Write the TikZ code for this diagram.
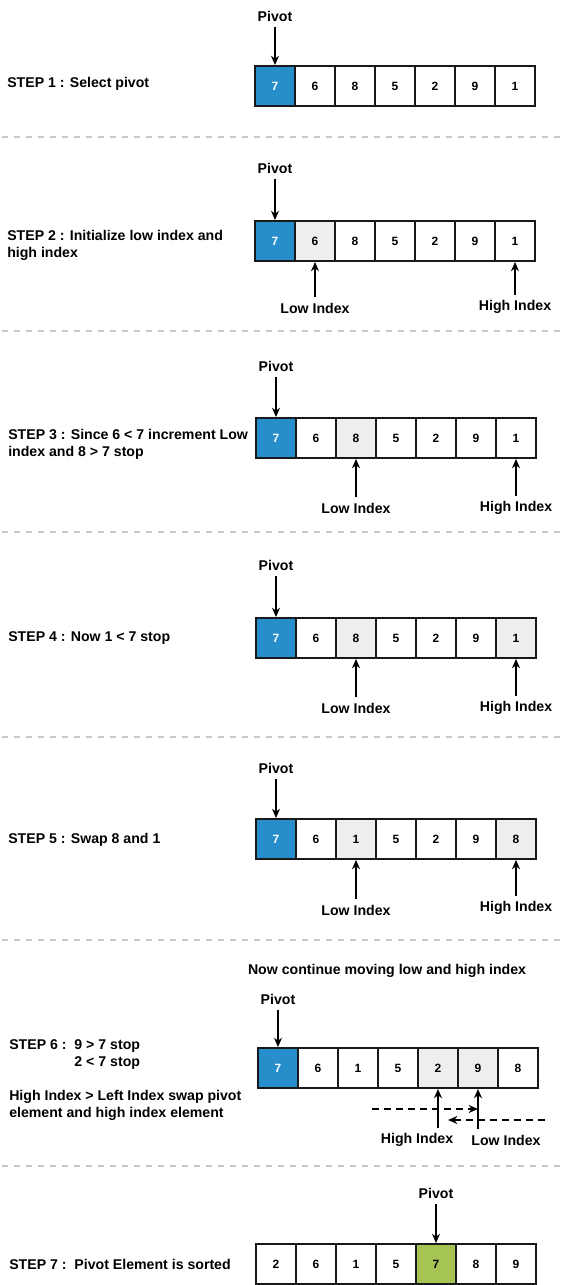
\documentclass[tikz,border=0pt]{standalone}
\usepackage{fontspec}
\setmainfont{Liberation Sans}
\usetikzlibrary{arrows.meta,positioning}
\definecolor{pivblue}{RGB}{40,142,203}
\definecolor{lightgr}{RGB}{238,238,238}
\definecolor{sortgreen}{RGB}{165,196,84}
\definecolor{sepgray}{RGB}{200,200,200}
\tikzset{
  cell/.style    = {draw=black!90, line width=1.4pt, fill=white, minimum width=30pt,
                    minimum height=30pt, inner sep=0pt,
                    font=\fontsize{9}{11}\selectfont\bfseries},
  piv/.style     = {cell, fill=pivblue, text=white},
  idx/.style     = {cell, fill=lightgr},
  sorted/.style  = {cell, fill=sortgreen},
  lbl/.style     = {font=\fontsize{10.6}{12.7}\selectfont\bfseries, inner sep=4pt},
  stepl/.style   = {lbl, anchor=west, align=left, inner sep=0pt},
  e/.style       = {-{Stealth[length=7pt,width=6pt]}, line width=1.1pt},
  mv/.style      = {e, dash pattern=on 5pt off 4pt},
  sepline/.style = {sepgray, line width=1.5pt, dash pattern=on 4.5pt off 4.5pt}
}
\begin{document}
\begin{tikzpicture}[x=0.75pt,y=-0.75pt]
  \useasboundingbox (0,0) rectangle (579,1285);
  % step 1
  \node[stepl] (step1) at (7,84) {STEP 1 : Select pivot};
  \foreach \v/\s [count=\i] in {7/piv,6/cell,8/cell,5/cell,2/cell,9/cell,1/cell}
    \node[\s] (s1c\i) at ({235+40*\i},86) {\v};
  \node[lbl] (piv1) at (275,16) {Pivot};
  \draw[e] (piv1) -- (s1c1);
  \draw[sepline] (2,137) -- (566,137);
  % step 2
  \node[stepl] (step2) at (7,245.5) {STEP 2 : Initialize low index and\\high index};
  \foreach \v/\s [count=\i] in {7/piv,6/idx,8/cell,5/cell,2/cell,9/cell,1/cell}
    \node[\s] (s2c\i) at ({235+40*\i},241) {\v};
  \node[lbl] (piv2) at (275,168) {Pivot};
  \node[lbl] (low2) at (315,308) {Low Index};
  \node[lbl] (high2) at (515,307) {High Index};
  \draw[e] (piv2) -- (s2c1);
  \draw[e] (low2) -- (s2c2);
  \draw[e] (high2) -- (s2c7);
  \draw[sepline] (2,331) -- (566,331);
  % step 3
  \node[stepl] (step3) at (8,444.5) {STEP 3 : Since 6 < 7 increment Low\\index and 8 > 7 stop};
  \foreach \v/\s [count=\i] in {7/piv,6/cell,8/idx,5/cell,2/cell,9/cell,1/cell}
    \node[\s] (s3c\i) at ({236+40*\i},438) {\v};
  \node[lbl] (piv3) at (276,366) {Pivot};
  \node[lbl] (low3) at (356,508) {Low Index};
  \node[lbl] (high3) at (516,508) {High Index};
  \draw[e] (piv3) -- (s3c1);
  \draw[e] (low3) -- (s3c3);
  \draw[e] (high3) -- (s3c7);
  \draw[sepline] (2,532) -- (566,532);
  % step 4
  \node[stepl] (step4) at (8,638) {STEP 4 : Now 1 < 7 stop};
  \foreach \v/\s [count=\i] in {7/piv,6/cell,8/idx,5/cell,2/cell,9/cell,1/idx}
    \node[\s] (s4c\i) at ({236+40*\i},638) {\v};
  \node[lbl] (piv4) at (276,565) {Pivot};
  \node[lbl] (low4) at (356,708) {Low Index};
  \node[lbl] (high4) at (516,708) {High Index};
  \draw[e] (piv4) -- (s4c1);
  \draw[e] (low4) -- (s4c3);
  \draw[e] (high4) -- (s4c7);
  \draw[sepline] (2,737) -- (566,737);
  % step 5
  \node[stepl] (step5) at (8,840) {STEP 5 : Swap 8 and 1};
  \foreach \v/\s [count=\i] in {7/piv,6/cell,1/idx,5/cell,2/cell,9/cell,8/idx}
    \node[\s] (s5c\i) at ({236+40*\i},839) {\v};
  \node[lbl] (piv5) at (276,768) {Pivot};
  \node[lbl] (low5) at (356,910) {Low Index};
  \node[lbl] (high5) at (516,908) {High Index};
  \draw[e] (piv5) -- (s5c1);
  \draw[e] (low5) -- (s5c3);
  \draw[e] (high5) -- (s5c7);
  \draw[sepline] (2,940) -- (566,940);
  % step 6
  \node[lbl] (note6) at (387,971) {Now continue moving low and high index};
  \node[stepl] (step6) at (9,1054.5) {STEP 6 :~~9 > 7 stop\\\phantom{STEP 6 :~~}2 < 7 stop};
  \node[stepl] (swap6) at (9,1105) {High Index > Left Index swap pivot\\element and high index element};
  \foreach \v/\s [count=\i] in {7/piv,6/cell,1/cell,5/cell,2/idx,9/idx,8/cell}
    \node[\s] (s6c\i) at ({238+40*\i},1068) {\v};
  \node[lbl] (piv6) at (278,999) {Pivot};
  \node[lbl] (high6) at (417,1140) {High Index};
  \node[lbl] (low6) at (506,1140) {Low Index};
  \draw[e] (piv6) -- (s6c1);
  \draw[e] (s6c5 |- high6.north) -- (s6c5);
  \draw[e] (s6c6 |- low6.north) -- (s6c6);
  \coordinate (mvr0) at (372,1109);
  \coordinate (mvr1) at (478,1109);
  \coordinate (mvl0) at (545,1120);
  \coordinate (mvl1) at (448,1120);
  \draw[mv] (mvr0) -- (mvr1);
  \draw[mv] (mvl0) -- (mvl1);
  \draw[sepline] (2,1166) -- (566,1166);
  % step 7
  \node[stepl] (step7) at (9,1264) {STEP 7 :~~Pivot Element is sorted};
  \foreach \v/\s [count=\i] in {2/cell,6/cell,1/cell,5/cell,7/sorted,8/cell,9/cell}
    \node[\s] (s7c\i) at ({236+40*\i},1264) {\v};
  \node[lbl] (piv7) at (436,1193) {Pivot};
  \draw[e] (piv7) -- (s7c5);
\end{tikzpicture}
\end{document}
